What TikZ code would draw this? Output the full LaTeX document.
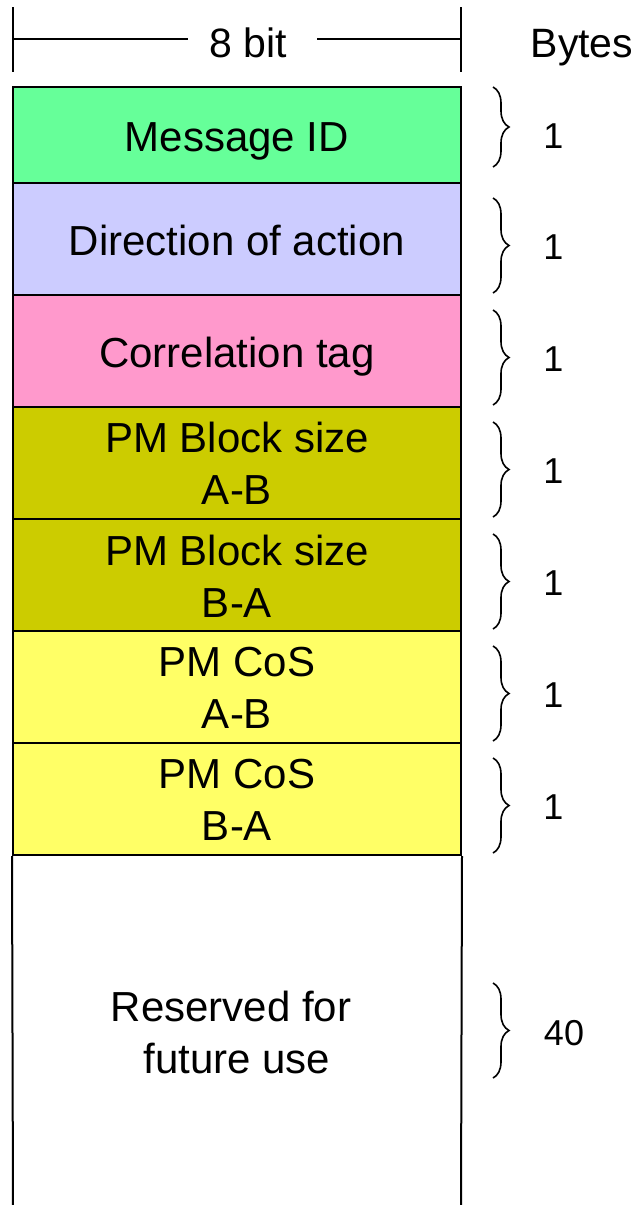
\documentclass[tikz,border=0pt]{standalone}
\usepackage{fontspec}
\setmainfont{Liberation Sans}
\usetikzlibrary{decorations.pathreplacing}
\definecolor{cMsg}{HTML}{66FF99}
\definecolor{cDir}{HTML}{CCCCFF}
\definecolor{cCor}{HTML}{FF99CC}
\definecolor{cBlk}{HTML}{CCCC00}
\definecolor{cCos}{HTML}{FFFF66}
\tikzset{
  field/.style={draw=black, line width=1pt, minimum width=224pt, inner sep=0pt},
  ftext/.style={anchor=base, inner sep=0pt, align=center, font=\fontsize{21}{25.75}\selectfont},
  hdr/.style={anchor=base, font=\fontsize{20.5}{24}\selectfont, inner sep=0pt},
  cnt/.style={anchor=base, font=\fontsize{18}{20}\selectfont, inner sep=0pt},
  rule/.style={line width=1pt},
  bracket/.style={decorate, decoration={brace, amplitude=8pt}, line width=0.8pt}
}
\begin{document}
\begin{tikzpicture}[x=0.5pt,y=-0.5pt]
\useasboundingbox (0,0) rectangle (640,1205);
% header
\coordinate (t1) at (13,7);  \coordinate (b1) at (13,72);
\coordinate (t2) at (461,7); \coordinate (b2) at (461,72);
\coordinate (hl) at (13,39); \coordinate (gl) at (188,39);
\coordinate (gr) at (317,39); \coordinate (hr) at (461,39);
\draw[rule] (t1) -- (b1);
\draw[rule] (t2) -- (b2);
\draw[rule] (hl) -- (gl);
\draw[rule] (gr) -- (hr);
\node[hdr] (bit) at (248,57) {8 bit};
\node[hdr] (bytes) at (582,57) {Bytes};
% field boxes
\node[field, fill=cMsg, minimum height=48pt] (f1) at (237,135) {};
\node[field, fill=cDir, minimum height=56pt] (f2) at (237,239) {};
\node[field, fill=cCor, minimum height=56pt] (f3) at (237,351) {};
\node[field, fill=cBlk, minimum height=56pt] (f4) at (237,463) {};
\node[field, fill=cBlk, minimum height=56pt] (f5) at (237,575) {};
\node[field, fill=cCos, minimum height=56pt] (f6) at (237,687) {};
\node[field, fill=cCos, minimum height=56pt] (f7) at (237,799) {};
% field texts (base = baseline of last line)
\node[ftext] (l1) at (237,151) {Message ID};
\node[ftext] (l2) at (237,255) {Direction of action};
\node[ftext] (l3) at (237,367) {Correlation tag};
\node[ftext] (l4) at (237,504) {PM Block size\\A-B};
\node[ftext] (l5) at (237,617) {PM Block size\\B-A};
\node[ftext] (l6) at (237,728) {PM CoS\\A-B};
\node[ftext] (l7) at (237,840) {PM CoS\\B-A};
% reserved area
\coordinate (rl) at (13,1210); \coordinate (rr) at (461,1210);
\draw[rule] (f7.south west) -- (rl);
\draw[rule] (f7.south east) -- (rr);
\node[ftext] (l8) at (237,1073) {Reserved for\hspace*{0.28em}\\future use};
% braces and counts
\foreach \i/\a/\b/\c in {1/87/167/148, 2/198/293/259, 3/310/405/371,
  4/422/517/483, 5/534/629/595, 6/646/741/707, 7/758/853/819}{
  \coordinate (s\i) at (493,\a);
  \coordinate (e\i) at (493,\b);
  \draw[bracket] (s\i) -- (e\i);
  \node[cnt] (n\i) at (553.5,\c) {1};
}
\coordinate (s8) at (493,983);
\coordinate (e8) at (493,1078);
\draw[bracket] (s8) -- (e8);
\node[cnt] (n8) at (564,1045) {40};
\end{tikzpicture}
\end{document}
